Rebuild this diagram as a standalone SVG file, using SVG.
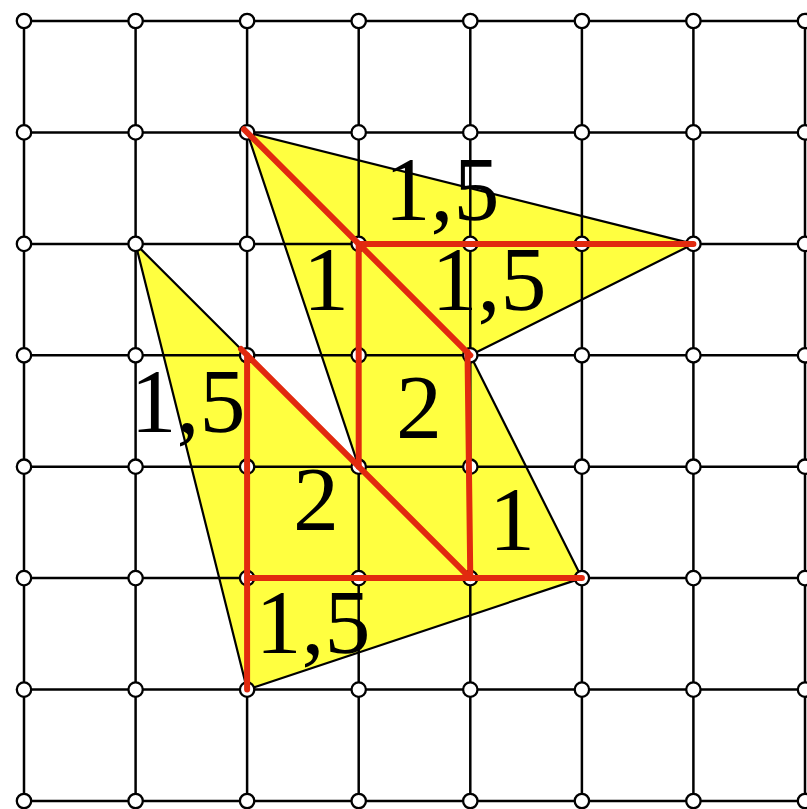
<svg xmlns="http://www.w3.org/2000/svg" width="807" height="809" viewBox="0 0 807 809">
<style>
.grid line{stroke:#000;stroke-width:2.5}
.node{fill:#fff;stroke:#000;stroke-width:2.3}
.red line{stroke:#e12a0f;stroke-width:6;stroke-linecap:round}
.lbl{font-family:"Liberation Serif","Times New Roman",serif;font-size:92px;fill:#000;text-anchor:middle}
</style>
<rect width="807" height="809" fill="#fff"/>
<g id="shape">
<polygon points="247.1,132.4 693.4,243.9 470.3,355.3 581.9,578.1 247.1,689.6 135.6,243.9 247.1,355.3 358.7,466.7" fill="#ffff40" stroke="none"/>
</g>
<g class="grid" id="grid">
<line x1="24" y1="21" x2="805" y2="21"/>
<line x1="24" y1="132.4" x2="805" y2="132.4"/>
<line x1="24" y1="243.9" x2="805" y2="243.9"/>
<line x1="24" y1="355.3" x2="805" y2="355.3"/>
<line x1="24" y1="466.7" x2="805" y2="466.7"/>
<line x1="24" y1="578.1" x2="805" y2="578.1"/>
<line x1="24" y1="689.6" x2="805" y2="689.6"/>
<line x1="24" y1="801" x2="805" y2="801"/>
<line x1="24" y1="21" x2="24" y2="801"/>
<line x1="135.6" y1="21" x2="135.6" y2="801"/>
<line x1="247.1" y1="21" x2="247.1" y2="801"/>
<line x1="358.7" y1="21" x2="358.7" y2="801"/>
<line x1="470.3" y1="21" x2="470.3" y2="801"/>
<line x1="581.9" y1="21" x2="581.9" y2="801"/>
<line x1="693.4" y1="21" x2="693.4" y2="801"/>
<line x1="805" y1="21" x2="805" y2="801"/>
</g>
<g id="outline">
<polygon points="247.1,132.4 693.4,243.9 470.3,355.3 581.9,578.1 247.1,689.6 135.6,243.9 247.1,355.3 358.7,466.7" fill="none" stroke="#000" stroke-width="2.2" stroke-linejoin="round"/>
</g>
<g id="nodes">
<g id="r0"><circle class="node" cx="24" cy="21" r="7.2"/><circle class="node" cx="135.6" cy="21" r="7.2"/><circle class="node" cx="247.1" cy="21" r="7.2"/><circle class="node" cx="358.7" cy="21" r="7.2"/><circle class="node" cx="470.3" cy="21" r="7.2"/><circle class="node" cx="581.9" cy="21" r="7.2"/><circle class="node" cx="693.4" cy="21" r="7.2"/><circle class="node" cx="805" cy="21" r="7.2"/></g>
<g id="r1"><circle class="node" cx="24" cy="132.4" r="7.2"/><circle class="node" cx="135.6" cy="132.4" r="7.2"/><circle class="node" cx="247.1" cy="132.4" r="7.2"/><circle class="node" cx="358.7" cy="132.4" r="7.2"/><circle class="node" cx="470.3" cy="132.4" r="7.2"/><circle class="node" cx="581.9" cy="132.4" r="7.2"/><circle class="node" cx="693.4" cy="132.4" r="7.2"/><circle class="node" cx="805" cy="132.4" r="7.2"/></g>
<g id="r2"><circle class="node" cx="24" cy="243.9" r="7.2"/><circle class="node" cx="135.6" cy="243.9" r="7.2"/><circle class="node" cx="247.1" cy="243.9" r="7.2"/><circle class="node" cx="358.7" cy="243.9" r="7.2"/><circle class="node" cx="470.3" cy="243.9" r="7.2"/><circle class="node" cx="581.9" cy="243.9" r="7.2"/><circle class="node" cx="693.4" cy="243.9" r="7.2"/><circle class="node" cx="805" cy="243.9" r="7.2"/></g>
<g id="r3"><circle class="node" cx="24" cy="355.3" r="7.2"/><circle class="node" cx="135.6" cy="355.3" r="7.2"/><circle class="node" cx="247.1" cy="355.3" r="7.2"/><circle class="node" cx="358.7" cy="355.3" r="7.2"/><circle class="node" cx="470.3" cy="355.3" r="7.2"/><circle class="node" cx="581.9" cy="355.3" r="7.2"/><circle class="node" cx="693.4" cy="355.3" r="7.2"/><circle class="node" cx="805" cy="355.3" r="7.2"/></g>
<g id="r4"><circle class="node" cx="24" cy="466.7" r="7.2"/><circle class="node" cx="135.6" cy="466.7" r="7.2"/><circle class="node" cx="247.1" cy="466.7" r="7.2"/><circle class="node" cx="358.7" cy="466.7" r="7.2"/><circle class="node" cx="470.3" cy="466.7" r="7.2"/><circle class="node" cx="581.9" cy="466.7" r="7.2"/><circle class="node" cx="693.4" cy="466.7" r="7.2"/><circle class="node" cx="805" cy="466.7" r="7.2"/></g>
<g id="r5"><circle class="node" cx="24" cy="578.1" r="7.2"/><circle class="node" cx="135.6" cy="578.1" r="7.2"/><circle class="node" cx="247.1" cy="578.1" r="7.2"/><circle class="node" cx="358.7" cy="578.1" r="7.2"/><circle class="node" cx="470.3" cy="578.1" r="7.2"/><circle class="node" cx="581.9" cy="578.1" r="7.2"/><circle class="node" cx="693.4" cy="578.1" r="7.2"/><circle class="node" cx="805" cy="578.1" r="7.2"/></g>
<g id="r6"><circle class="node" cx="24" cy="689.6" r="7.2"/><circle class="node" cx="135.6" cy="689.6" r="7.2"/><circle class="node" cx="247.1" cy="689.6" r="7.2"/><circle class="node" cx="358.7" cy="689.6" r="7.2"/><circle class="node" cx="470.3" cy="689.6" r="7.2"/><circle class="node" cx="581.9" cy="689.6" r="7.2"/><circle class="node" cx="693.4" cy="689.6" r="7.2"/><circle class="node" cx="805" cy="689.6" r="7.2"/></g>
<g id="r7"><circle class="node" cx="24" cy="801" r="7.2"/><circle class="node" cx="135.6" cy="801" r="7.2"/><circle class="node" cx="247.1" cy="801" r="7.2"/><circle class="node" cx="358.7" cy="801" r="7.2"/><circle class="node" cx="470.3" cy="801" r="7.2"/><circle class="node" cx="581.9" cy="801" r="7.2"/><circle class="node" cx="693.4" cy="801" r="7.2"/><circle class="node" cx="805" cy="801" r="7.2"/></g>
</g>
<g class="red" id="connectors">
<line x1="244" y1="129.3" x2="470.3" y2="355.3"/>
<line x1="358.7" y1="243.9" x2="693.4" y2="243.9"/>
<line x1="358.7" y1="243.9" x2="358.7" y2="466.7"/>
<line x1="467.5" y1="352" x2="470.3" y2="578.1"/>
<line x1="241" y1="349" x2="470.3" y2="578.1"/>
<line x1="247.1" y1="578.1" x2="581.9" y2="578.1"/>
<line x1="247.1" y1="355.3" x2="247.1" y2="689.6"/>
</g>
<g id="labels">
<text class="lbl" x="442" y="220">1,5</text>
<text class="lbl" x="326" y="310">1</text>
<text class="lbl" x="489" y="310">1,5</text>
<text class="lbl" x="419" y="438">2</text>
<text class="lbl" x="188" y="432">1,5</text>
<text class="lbl" x="316" y="530">2</text>
<text class="lbl" x="512" y="550">1</text>
<text class="lbl" x="313" y="653">1,5</text>
</g>
</svg>
